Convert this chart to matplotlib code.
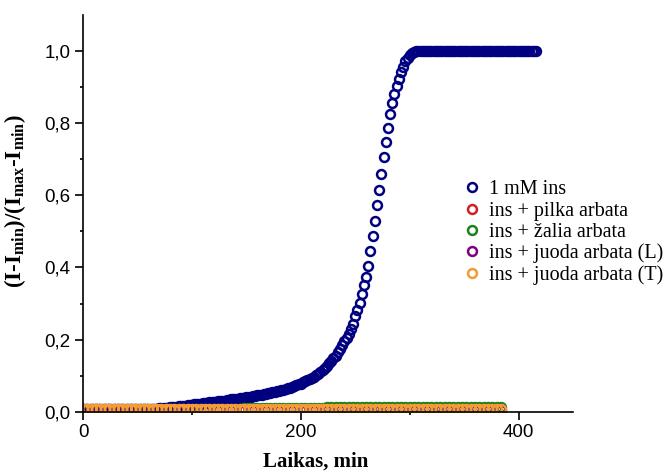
import matplotlib
matplotlib.use('Agg')
import matplotlib.pyplot as plt

# laikas (min) ir normuota fluorescencija
time_ins = [
    0, 2, 4, 6, 8, 10, 12, 14, 16, 18, 20, 22, 24, 26, 28, 30, 32, 34, 36, 38,
    40, 42, 44, 46, 48, 50, 52, 54, 56, 58, 60, 62, 64, 66, 68, 70, 72, 74, 76, 78,
    80, 82, 84, 86, 88, 90, 92, 94, 96, 98, 100, 102, 104, 106, 108, 110, 112, 114, 116, 118,
    120, 122, 124, 126, 128, 130, 132, 134, 136, 138, 140, 142, 144, 146, 148, 150, 152, 154, 156, 158,
    160, 162, 164, 166, 168, 170, 172, 174, 176, 178, 180, 182, 184, 186, 188, 190, 192, 194, 196, 198,
    200, 202, 204, 206, 208, 210, 212, 214, 216, 218, 220, 222, 224, 226, 228, 230, 232, 234, 236, 238,
    240, 242, 244, 246, 248, 250, 252, 254, 256, 258, 260, 262, 264, 266, 268, 270, 272, 274, 276, 278,
    280, 282, 284, 286, 288, 290, 292, 294, 296, 298, 300, 302, 304, 306, 308, 310, 312, 314, 316, 318,
    320, 322, 324, 326, 328, 330, 332, 334, 336, 338, 340, 342, 344, 346, 348, 350, 352, 354, 356, 358,
    360, 362, 364, 366, 368, 370, 372, 374, 376, 378, 380, 382, 384, 386, 388, 390, 392, 394, 396, 398,
    400, 402, 404, 406, 408, 410, 412, 414, 416,
]
ins_1mM = [
    0.007, 0.007, 0.007, 0.007, 0.007, 0.007, 0.007, 0.007, 0.007, 0.007,
    0.007, 0.007, 0.007, 0.007, 0.007, 0.007, 0.007, 0.007, 0.007, 0.007,
    0.007, 0.007, 0.007, 0.007, 0.007, 0.007, 0.007, 0.007, 0.007, 0.007,
    0.007, 0.007, 0.007, 0.008, 0.008, 0.009, 0.009, 0.010, 0.011, 0.011,
    0.012, 0.013, 0.013, 0.014, 0.015, 0.015, 0.016, 0.017, 0.018, 0.018,
    0.019, 0.020, 0.021, 0.022, 0.022, 0.023, 0.024, 0.025, 0.026, 0.026,
    0.027, 0.028, 0.029, 0.030, 0.030, 0.031, 0.032, 0.033, 0.034, 0.035,
    0.035, 0.036, 0.037, 0.038, 0.039, 0.040, 0.041, 0.042, 0.043, 0.044,
    0.045, 0.046, 0.047, 0.048, 0.050, 0.051, 0.052, 0.054, 0.055, 0.057,
    0.058, 0.060, 0.061, 0.063, 0.065, 0.067, 0.069, 0.071, 0.073, 0.076,
    0.078, 0.081, 0.084, 0.087, 0.090, 0.093, 0.097, 0.101, 0.105, 0.110,
    0.115, 0.121, 0.127, 0.134, 0.141, 0.148, 0.155, 0.165, 0.175, 0.185,
    0.195, 0.205, 0.215, 0.228, 0.244, 0.264, 0.281, 0.302, 0.325, 0.350,
    0.374, 0.405, 0.445, 0.487, 0.530, 0.572, 0.615, 0.660, 0.705, 0.748,
    0.788, 0.825, 0.856, 0.880, 0.903, 0.923, 0.942, 0.957, 0.973, 0.982,
    0.990, 0.995, 0.998, 1.0, 1.0, 1.0, 1.0, 1.0, 1.0, 1.0,
    1.0, 1.0, 1.0, 1.0, 1.0, 1.0, 1.0, 1.0, 1.0, 1.0,
    1.0, 1.0, 1.0, 1.0, 1.0, 1.0, 1.0, 1.0, 1.0, 1.0,
    1.0, 1.0, 1.0, 1.0, 1.0, 1.0, 1.0, 1.0, 1.0, 1.0,
    1.0, 1.0, 1.0, 1.0, 1.0, 1.0, 1.0, 1.0, 1.0, 1.0,
    1.0, 1.0, 1.0, 1.0, 1.0, 1.0, 1.0, 1.0, 1.0,
]

time_tea = [
    0, 4, 8, 12, 16, 20, 24, 28, 32, 36, 40, 44, 48, 52, 56, 60, 64, 68, 72, 76,
    80, 84, 88, 92, 96, 100, 104, 108, 112, 116, 120, 124, 128, 132, 136, 140, 144, 148, 152, 156,
    160, 164, 168, 172, 176, 180, 184, 188, 192, 196, 200, 204, 208, 212, 216, 220, 224, 228, 232, 236,
    240, 244, 248, 252, 256, 260, 264, 268, 272, 276, 280, 284, 288, 292, 296, 300, 304, 308, 312, 316,
    320, 324, 328, 332, 336, 340, 344, 348, 352, 356, 360, 364, 368, 372, 376, 380, 384,
]
pilka = [
    0.006, 0.006, 0.006, 0.006, 0.006, 0.006, 0.006, 0.006, 0.006, 0.006,
    0.006, 0.006, 0.006, 0.006, 0.006, 0.006, 0.006, 0.006, 0.006, 0.006,
    0.006, 0.006, 0.006, 0.006, 0.006, 0.006, 0.006, 0.006, 0.006, 0.006,
    0.006, 0.006, 0.006, 0.006, 0.006, 0.006, 0.006, 0.006, 0.006, 0.006,
    0.006, 0.006, 0.006, 0.006, 0.006, 0.006, 0.006, 0.006, 0.006, 0.006,
    0.006, 0.006, 0.006, 0.006, 0.006, 0.006, 0.006, 0.006, 0.006, 0.006,
    0.006, 0.006, 0.006, 0.006, 0.006, 0.006, 0.006, 0.006, 0.006, 0.006,
    0.006, 0.006, 0.006, 0.006, 0.006, 0.006, 0.006, 0.006, 0.006, 0.006,
    0.006, 0.006, 0.006, 0.006, 0.006, 0.006, 0.006, 0.006, 0.006, 0.006,
    0.006, 0.006, 0.006, 0.006, 0.006, 0.006, 0.006,
]
zalia = [
    0.007, 0.007, 0.007, 0.007, 0.007, 0.007, 0.007, 0.007, 0.007, 0.007,
    0.007, 0.007, 0.007, 0.007, 0.007, 0.007, 0.007, 0.007, 0.007, 0.007,
    0.007, 0.007, 0.007, 0.007, 0.007, 0.007, 0.007, 0.007, 0.007, 0.007,
    0.007, 0.007, 0.007, 0.008, 0.008, 0.008, 0.008, 0.009, 0.009, 0.009,
    0.009, 0.010, 0.010, 0.010, 0.010, 0.011, 0.011, 0.011, 0.011, 0.011,
    0.011, 0.011, 0.011, 0.011, 0.011, 0.011, 0.012, 0.012, 0.012, 0.012,
    0.012, 0.012, 0.012, 0.012, 0.012, 0.012, 0.013, 0.013, 0.013, 0.013,
    0.013, 0.013, 0.013, 0.013, 0.013, 0.013, 0.013, 0.013, 0.014, 0.014,
    0.014, 0.014, 0.014, 0.014, 0.014, 0.014, 0.014, 0.014, 0.014, 0.014,
    0.014, 0.014, 0.014, 0.014, 0.014, 0.014, 0.014,
]
juoda_L = [
    0.006, 0.006, 0.006, 0.006, 0.006, 0.006, 0.006, 0.006, 0.006, 0.006,
    0.006, 0.006, 0.006, 0.006, 0.006, 0.006, 0.006, 0.006, 0.006, 0.006,
    0.006, 0.006, 0.006, 0.006, 0.006, 0.006, 0.006, 0.006, 0.006, 0.006,
    0.006, 0.006, 0.006, 0.006, 0.006, 0.006, 0.006, 0.006, 0.006, 0.006,
    0.006, 0.006, 0.006, 0.006, 0.006, 0.006, 0.006, 0.006, 0.006, 0.006,
    0.006, 0.006, 0.006, 0.006, 0.006, 0.006, 0.006, 0.006, 0.006, 0.006,
    0.006, 0.006, 0.006, 0.006, 0.006, 0.006, 0.006, 0.006, 0.006, 0.006,
    0.006, 0.006, 0.006, 0.006, 0.006, 0.006, 0.006, 0.006, 0.006, 0.006,
    0.006, 0.006, 0.006, 0.006, 0.006, 0.006, 0.006, 0.006, 0.006, 0.006,
    0.006, 0.006, 0.006, 0.006, 0.006, 0.006, 0.006,
]
juoda_T = [
    0.007, 0.007, 0.007, 0.007, 0.007, 0.007, 0.007, 0.007, 0.007, 0.007,
    0.007, 0.007, 0.007, 0.007, 0.007, 0.007, 0.007, 0.007, 0.007, 0.007,
    0.007, 0.007, 0.007, 0.007, 0.007, 0.007, 0.007, 0.007, 0.007, 0.007,
    0.007, 0.007, 0.007, 0.007, 0.007, 0.007, 0.007, 0.007, 0.007, 0.007,
    0.007, 0.007, 0.007, 0.007, 0.007, 0.007, 0.007, 0.007, 0.007, 0.007,
    0.007, 0.007, 0.007, 0.007, 0.007, 0.007, 0.007, 0.007, 0.007, 0.007,
    0.007, 0.007, 0.007, 0.007, 0.007, 0.007, 0.007, 0.007, 0.007, 0.007,
    0.007, 0.007, 0.007, 0.007, 0.007, 0.007, 0.007, 0.007, 0.007, 0.007,
    0.007, 0.007, 0.007, 0.007, 0.007, 0.007, 0.007, 0.007, 0.007, 0.007,
    0.007, 0.007, 0.007, 0.007, 0.007, 0.007, 0.007,
]

labels = ['1 mM ins', 'ins + pilka arbata', 'ins + žalia arbata',
          'ins + juoda arbata (L)', 'ins + juoda arbata (T)']
colors = ['#000080', '#d42020', '#1e8020', '#800080', '#f39c34']

x_ticks = [0, 200, 400]
x_minor = [100, 300]
y_ticks = [0.0, 0.2, 0.4, 0.6, 0.8, 1.0]
y_tick_labels = ['0,0', '0,2', '0,4', '0,6', '0,8', '1,0']
y_minor = [0.1, 0.3, 0.5, 0.7, 0.9]

fig = plt.figure(figsize=(6.68, 4.73), dpi=100)
ax = fig.add_axes([0.1243, 0.1296, 0.7335, 0.8387])

mk = dict(marker='o', linestyle='none', markersize=6.4, markeredgewidth=1.8,
          markerfacecolor='none')
series = [(time_ins, ins_1mM), (time_tea, pilka), (time_tea, zalia),
          (time_tea, juoda_L), (time_tea, juoda_T)]
for (t, y), lab, c in zip(series, labels, colors):
    ax.plot(t, y, color=c, markeredgecolor=c, label=lab, **mk)

ax.set_xlim(0, 450)
ax.set_ylim(0, 1.1)
ax.set_xticks(x_ticks)
ax.set_xticks(x_minor, minor=True)
ax.set_yticks(y_ticks)
ax.set_yticklabels(y_tick_labels)
ax.set_yticks(y_minor, minor=True)

for s in ['top', 'right']:
    ax.spines[s].set_visible(False)
for s in ['left', 'bottom']:
    ax.spines[s].set_linewidth(1.2)

ax.tick_params(which='major', direction='out', length=6, width=1.2,
               labelsize=13.5, pad=3)
ax.tick_params(which='minor', direction='out', length=2.5, width=1.2)
for lbl in ax.get_xticklabels() + ax.get_yticklabels():
    lbl.set_fontfamily('Liberation Sans')

ax.set_xlabel('Laikas, min', fontfamily='Liberation Serif', fontweight='bold',
              fontsize=15)
ax.xaxis.set_label_coords(0.475, -0.1)
ax.set_ylabel(r'(I-I$_{\mathregular{min}}$)/(I$_{\mathregular{max}}$-I$_{\mathregular{min}}$)',
              fontfamily='Liberation Serif', fontweight='bold', fontsize=16.5)
ax.yaxis.set_label_coords(-0.112, 0.53)

ax.legend(loc='upper left', bbox_to_anchor=(0.68, 0.64), bbox_transform=fig.transFigure,
          frameon=False, prop={'family': 'Liberation Serif', 'size': 14.5},
          handlelength=0.8, handletextpad=0.45, labelspacing=0.1, borderpad=0)

fig.savefig('out.png', dpi=100)
